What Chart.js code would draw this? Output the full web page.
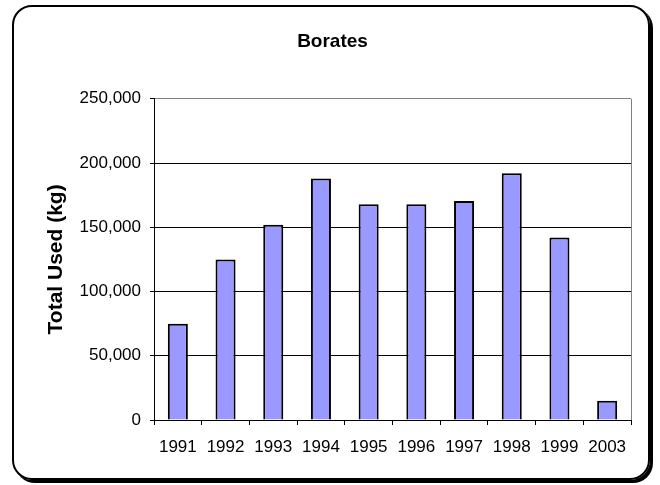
<!DOCTYPE html>
<html lang="en">
<head>
    <meta charset="UTF-8">
    <title>Borates</title>
    <script src="https://cdn.jsdelivr.net/npm/chart.js"></script>
    <style>
        body { margin: 0; background: #fff; }
        .frame {
            position: absolute;
            left: 12px; top: 5px;
            width: 634px; height: 471px;
            border: 2px solid #000;
            border-radius: 20px;
            box-shadow: 3px 3px 0 #000;
        }
        canvas { position: absolute; left: 0; top: 0; }
    </style>
</head>
<body>
    <div class="frame"></div>
    <canvas id="chart" width="660" height="485"></canvas>

    <script>
        const years = ['1991', '1992', '1993', '1994', '1995', '1996', '1997', '1998', '1999', '2003'];
        const totalUsed = [75000, 125000, 152000, 188000, 168000, 168000, 170500, 192000, 142000, 15000];
        const yTicks = [0, 50000, 100000, 150000, 200000, 250000];

        // gray plot-area border on the right (Excel style)
        const plotBorder = {
            id: 'plotBorder',
            afterDraw(chart) {
                const a = chart.chartArea;
                const c = chart.ctx;
                c.save();
                c.strokeStyle = '#808080';
                c.lineWidth = 1;
                c.beginPath();
                c.moveTo(Math.round(a.right) + 0.5, a.top);
                c.lineTo(Math.round(a.right) + 0.5, a.bottom);
                c.stroke();
                c.restore();
            }
        };

        const ctx = document.getElementById('chart').getContext('2d');
        new Chart(ctx, {
            type: 'bar',
            data: {
                labels: years,
                datasets: [{
                    data: totalUsed,
                    backgroundColor: '#9999FF',
                    borderColor: '#000000',
                    borderWidth: 2,
                    barPercentage: 0.42,
                    categoryPercentage: 1
                }]
            },
            options: {
                responsive: false,
                animation: false,
                layout: { padding: { left: 34, right: 29, top: 0, bottom: 0 } },
                plugins: {
                    legend: { display: false },
                    tooltip: { enabled: false },
                    title: {
                        display: true,
                        text: 'Borates',
                        color: '#000',
                        font: { family: 'Liberation Sans, Arial', size: 19, weight: 'bold' },
                        padding: { top: 30, bottom: 46 }
                    }
                },
                scales: {
                    x: {
                        grid: {
                            offset: true,
                            drawOnChartArea: false,
                            color: '#000',
                            tickLength: 5
                        },
                        border: { color: '#000', width: 1 },
                        ticks: {
                            color: '#000',
                            padding: 12,
                            maxRotation: 0,
                            autoSkip: false,
                            font: { family: 'Liberation Sans, Arial', size: 17 }
                        },
                        afterFit: (s) => { s.height = 65; }
                    },
                    y: {
                        min: 0,
                        max: 250000,
                        afterBuildTicks: (s) => { s.ticks = yTicks.map(v => ({ value: v })); },
                        grid: {
                            color: (c) => c.tick && c.tick.value === 250000 ? '#808080' : '#000',
                            tickColor: '#000',
                            tickLength: 4
                        },
                        border: { color: '#000', width: 1 },
                        ticks: {
                            color: '#000',
                            padding: 9,
                            font: { family: 'Liberation Sans, Arial', size: 17 },
                            callback: (v) => v.toLocaleString('en-US')
                        },
                        title: {
                            display: true,
                            text: 'Total Used (kg)',
                            color: '#000',
                            font: { family: 'Liberation Sans, Arial', size: 21, weight: 'bold' },
                            padding: { top: 10, bottom: 0 }
                        },
                        afterFit: (s) => { s.width = 120; }
                    }
                }
            },
            plugins: [plotBorder]
        });
    </script>
</body>
</html>
